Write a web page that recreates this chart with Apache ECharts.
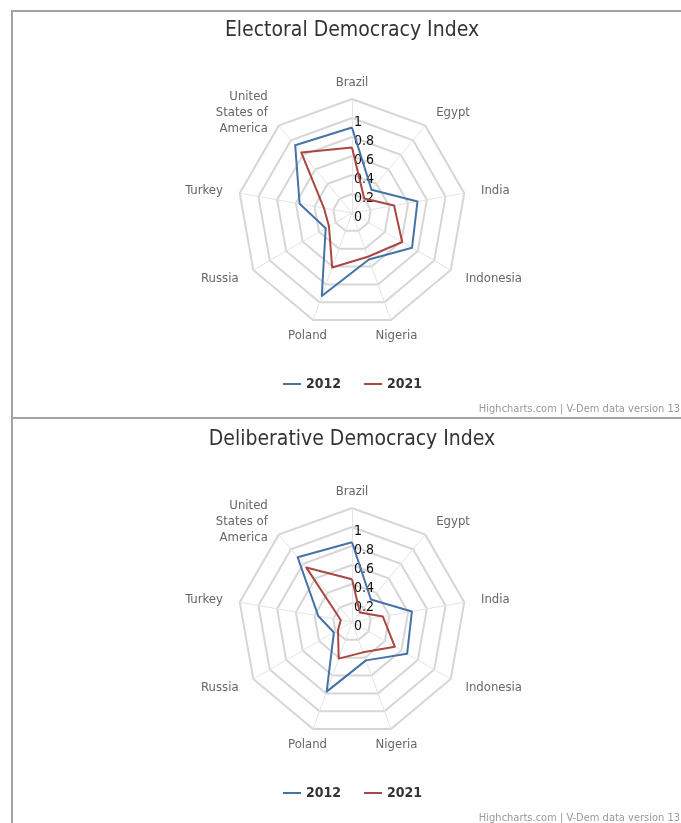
<!DOCTYPE html>
<html>
<head>
<meta charset="utf-8">
<script src="https://cdn.jsdelivr.net/npm/echarts@6/dist/echarts.min.js"></script>
<style>
html,body{margin:0;padding:0;background:#fff;}
#chart{width:681px;height:823px;}
</style>
</head>
<body>
<div id="chart"></div>
<script>
const categories = ['Brazil', 'Egypt', 'India', 'Indonesia', 'Nigeria', 'Poland', 'Russia', 'Turkey', 'United States of America'];
const seriesNames = ['2012', '2021'];
const titles = ['Electoral Democracy Index', 'Deliberative Democracy Index'];
const credits = 'Highcharts.com | V-Dem data version 13';
const electoral2012 = [0.90, 0.32, 0.70, 0.73, 0.52, 0.93, 0.32, 0.56, 0.93];
const electoral2021 = [0.69, 0.20, 0.45, 0.61, 0.49, 0.61, 0.28, 0.30, 0.83];
const deliberative2012 = [0.84, 0.31, 0.64, 0.67, 0.43, 0.78, 0.22, 0.36, 0.89];
const deliberative2021 = [0.45, 0.13, 0.33, 0.52, 0.34, 0.41, 0.17, 0.12, 0.75];
const axisMin = 0, axisMax = 1.2, axisSplits = 6;

const FONT = '"DejaVu Sans Condensed", "DejaVu Sans", sans-serif';
const colors = ['#4572A7', '#AA4643'];
const OFFSET = 409;
const CX = 352, CY = 213, R = 114;

// ECharts radar goes counter-clockwise; reorder to get clockwise layout
const order = [0].concat(categories.map((_, i) => i).slice(1).reverse());

function wrapName(name) {
  const words = name.split(' ');
  const lines = [];
  let cur = '';
  words.forEach(w => {
    if (cur && (cur + ' ' + w).length > 9) { lines.push(cur); cur = w; }
    else { cur = cur ? cur + ' ' + w : w; }
  });
  if (cur) lines.push(cur);
  return lines.join('\n');
}

function indicators() {
  return order.map(i => {
    const name = categories[i];
    const ind = { name: name, min: axisMin, max: axisMax, nameGap: 17 };
    if (i === 0) {
      ind.nameGap = 8;
      ind.axisLabel = {
        show: true, showMaxLabel: false, showMinLabel: true, margin: -2,
        align: 'left', verticalAlign: 'top', lineHeight: 8,
        color: '#111', fontSize: 14, fontFamily: FONT,
        formatter: v => String(+(+v).toFixed(1))
      };
    }
    if (name === 'Nigeria' || name === 'Poland') {
      ind.nameGap = 16;
      ind.nameTextStyle = { align: 'center', verticalAlign: 'middle' };
    }
    return ind;
  });
}

function radar(k) {
  return {
    center: [CX, CY + k * OFFSET],
    radius: R,
    startAngle: 90,
    shape: 'polygon',
    splitNumber: axisSplits,
    indicator: indicators(),
    axisName: { color: '#666', fontSize: 13, fontFamily: FONT, lineHeight: 16, formatter: n => wrapName(n) },
    splitLine: { lineStyle: { color: '#d6d6d6', width: 2 } },
    splitArea: { show: false },
    axisLine: { lineStyle: { color: '#e4e4e4', width: 1 } },
    axisTick: { show: false }
  };
}

function seriesFor(k, a, b) {
  return {
    type: 'radar',
    radarIndex: k,
    symbol: 'none',
    silent: true,
    data: [
      { name: seriesNames[0], value: order.map(i => a[i]), lineStyle: { color: colors[0], width: 2 }, itemStyle: { color: colors[0] } },
      { name: seriesNames[1], value: order.map(i => b[i]), lineStyle: { color: colors[1], width: 2 }, itemStyle: { color: colors[1] } }
    ]
  };
}

function legend(k) {
  return {
    data: seriesNames,
    left: 283, top: 377 + k * OFFSET,
    padding: 0, itemGap: 23, itemWidth: 18, itemHeight: 2,
    icon: 'rect',
    textStyle: { color: '#333', fontWeight: 'bold', fontSize: 14, fontFamily: FONT }
  };
}

const chart = echarts.init(document.getElementById('chart'), null, { renderer: 'canvas' });
chart.setOption({
  animation: false,
  backgroundColor: '#fff',
  title: [
    { text: titles[0], left: CX, top: 20, textAlign: 'center', padding: 0,
      textStyle: { color: '#333', fontSize: 21, fontWeight: 'normal', fontFamily: FONT } },
    { text: titles[1], left: CX, top: 20 + OFFSET, textAlign: 'center', padding: 0,
      textStyle: { color: '#333', fontSize: 21, fontWeight: 'normal', fontFamily: FONT } },
    { text: credits, right: 1, top: 404, padding: 0,
      textStyle: { color: '#999', fontSize: 11, fontWeight: 'normal', fontFamily: FONT } },
    { text: credits, right: 1, top: 404 + OFFSET, padding: 0,
      textStyle: { color: '#999', fontSize: 11, fontWeight: 'normal', fontFamily: FONT } }
  ],
  legend: [legend(0), legend(1)],
  radar: [radar(0), radar(1)],
  series: [seriesFor(0, electoral2012, electoral2021), seriesFor(1, deliberative2012, deliberative2021)],
  graphic: [
    { type: 'rect', shape: { x: 11, y: 10, width: 670, height: 2 }, style: { fill: '#a3a3a3' }, silent: true },
    { type: 'rect', shape: { x: 11, y: 10, width: 2, height: 813 }, style: { fill: '#a3a3a3' }, silent: true },
    { type: 'rect', shape: { x: 11, y: 417, width: 670, height: 2 }, style: { fill: '#a3a3a3' }, silent: true }
  ]
});
</script>
</body>
</html>
